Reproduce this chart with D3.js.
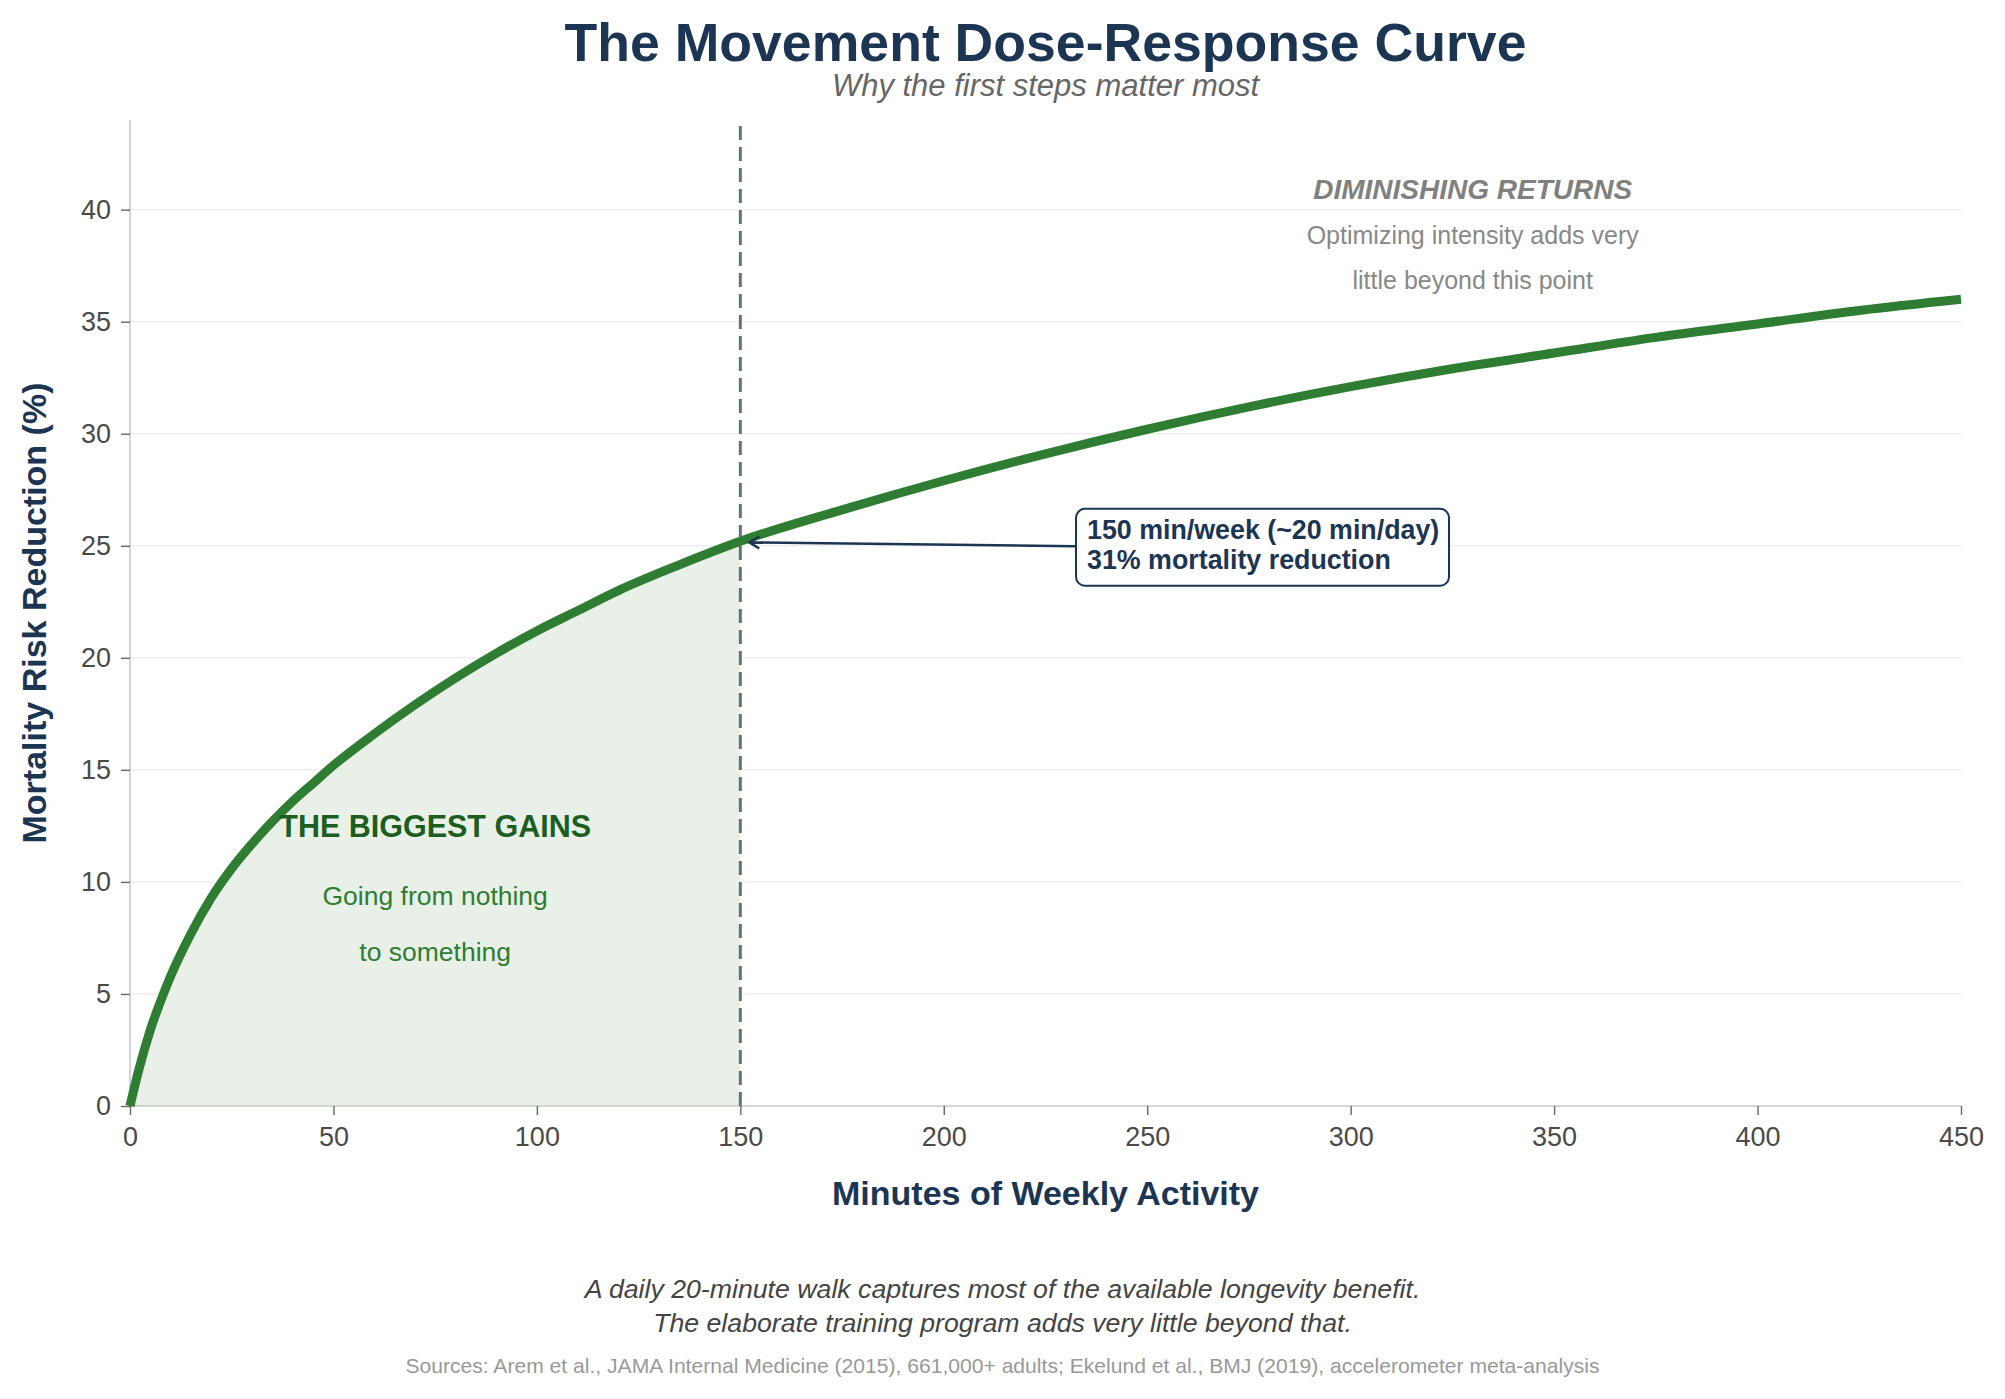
<!DOCTYPE html>
<html>
  <head>
    <meta charset="UTF-8" />
    <title>The Movement Dose-Response Curve</title>
    <script src="https://cdn.jsdelivr.net/npm/d3@7"></script>
    <style>
      body { margin: 0; background: #fff; }
      svg { display: block; font-family: 'Liberation Sans', Arial, sans-serif; }
    </style>
  </head>
  <body>
    <svg></svg>
    <script>
      // data
      const minutes = [0, 2, 5, 8, 10, 15, 20, 25, 30, 35, 40, 45, 50, 60, 70, 80, 90, 100, 110, 120,
        135, 150, 175, 200, 225, 250, 275, 300, 325, 350, 375, 400, 425, 450];
      const riskReduction = [0, 1.5, 3.4, 4.9, 5.8, 7.7, 9.3, 10.6, 11.7, 12.7, 13.6, 14.4, 15.2,
        16.6, 17.9, 19.1, 20.2, 21.2, 22.1, 23.0, 24.15, 25.2, 26.6, 27.9, 29.1, 30.2, 31.2,
        32.1, 32.9, 33.6, 34.3, 34.9, 35.5, 36.0];
      const xTicks = [0, 50, 100, 150, 200, 250, 300, 350, 400, 450];
      const yTicks = [0, 5, 10, 15, 20, 25, 30, 35, 40];
      const threshold = 150;
      const callout = ['150 min/week (~20 min/day)', '31% mortality reduction'];
      const gainsText = ['Going from nothing', 'to something'];
      const diminishingText = ['Optimizing intensity adds very', 'little beyond this point'];
      const footer = [
        'A daily 20-minute walk captures most of the available longevity benefit.',
        'The elaborate training program adds very little beyond that.'
      ];
      const sources = 'Sources: Arem et al., JAMA Internal Medicine (2015), 661,000+ adults; Ekelund et al., BMJ (2019), accelerometer meta-analysis';

      // 1. setup
      const width = 2005;
      const height = 1399;
      const margin = { top: 120, right: 44, bottom: 293, left: 130 };
      const navy = '#1c3553';
      const green = '#2e7d32';

      const svg = d3.select('svg').attr('width', width).attr('height', height);

      const x = d3.scaleLinear().domain([0, 450]).range([margin.left, width - margin.right]);
      const y = d3.scaleLinear().domain([0, 44]).range([height - margin.bottom, margin.top]);

      const data = minutes.map((m, i) => ({ m, v: riskReduction[i] }));

      // 2. grid
      svg.append('g')
        .selectAll('line')
        .data(yTicks.filter((d) => d > 0))
        .join('line')
        .attr('x1', x(0))
        .attr('x2', x(450))
        .attr('y1', (d) => y(d))
        .attr('y2', (d) => y(d))
        .attr('stroke', '#efefef')
        .attr('stroke-width', 1.5);

      // 3. shaded area up to threshold
      const area = d3.area()
        .x((d) => x(d.m))
        .y0(y(0))
        .y1((d) => y(d.v))
        .curve(d3.curveMonotoneX);
      svg.append('path')
        .datum(data.filter((d) => d.m <= threshold))
        .attr('fill', '#e8f0e8')
        .attr('d', area);

      // 4. axes
      const xAxis = svg.append('g')
        .attr('transform', `translate(0,${y(0)})`)
        .call(d3.axisBottom(x).tickValues(xTicks).tickSize(9).tickPadding(12));
      const yAxis = svg.append('g')
        .attr('transform', `translate(${x(0)},0)`)
        .call(d3.axisLeft(y).tickValues(yTicks).tickSize(9).tickPadding(10));
      [xAxis, yAxis].forEach((g) => {
        g.select('.domain').attr('stroke', '#c8c8c8').attr('stroke-width', 1.6);
        g.selectAll('.tick line').attr('stroke', '#666').attr('stroke-width', 1.4);
        g.selectAll('.tick text')
          .attr('fill', '#4a4a4a')
          .style('font-size', '27px')
          .style('font-family', "'Liberation Sans', Arial, sans-serif");
      });
      yAxis.select('.domain').attr('d', `M0,${y(0)}V${y(44)}`);
      xAxis.select('.domain').attr('d', `M${x(0)},0H${x(450)}`);

      // 5. threshold line
      svg.append('line')
        .attr('x1', x(threshold))
        .attr('x2', x(threshold))
        .attr('y1', y(0))
        .attr('y2', y(44))
        .attr('stroke', '#64727f')
        .attr('stroke-width', 3)
        .attr('stroke-dasharray', '14,7');

      // 6. curve
      const line = d3.line()
        .x((d) => x(d.m))
        .y((d) => y(d.v))
        .curve(d3.curveMonotoneX);
      svg.append('path')
        .datum(data)
        .attr('fill', 'none')
        .attr('stroke', green)
        .attr('stroke-width', 9)
        .attr('d', line);

      // 7. callout
      const boxX = x(232.5);
      const boxY = y(26.65);
      const boxW = 373;
      const boxH = 77;
      svg.append('defs')
        .append('marker')
        .attr('id', 'head')
        .attr('viewBox', '-12 -8 14 16')
        .attr('markerWidth', 14)
        .attr('markerHeight', 16)
        .attr('markerUnits', 'userSpaceOnUse')
        .attr('orient', 'auto')
        .append('path')
        .attr('d', 'M-10,-6L0,0L-10,6')
        .attr('fill', 'none')
        .attr('stroke', navy)
        .attr('stroke-width', 2.5);
      svg.append('line')
        .attr('x1', boxX)
        .attr('y1', boxY + boxH / 2 - 1)
        .attr('x2', x(threshold) + 9)
        .attr('y2', y(25.15))
        .attr('stroke', navy)
        .attr('stroke-width', 2.5)
        .attr('marker-end', 'url(#head)');
      svg.append('rect')
        .attr('x', boxX)
        .attr('y', boxY)
        .attr('width', boxW)
        .attr('height', boxH)
        .attr('rx', 9)
        .attr('fill', '#fff')
        .attr('stroke', navy)
        .attr('stroke-width', 2);
      svg.append('g')
        .selectAll('text')
        .data(callout)
        .join('text')
        .attr('x', boxX + 11)
        .attr('y', (d, i) => boxY + 30 + i * 30)
        .attr('fill', navy)
        .attr('font-weight', 'bold')
        .style('font-size', '26.8px')
        .text((d) => d);

      // 8. region notes
      svg.append('text')
        .attr('x', x(75))
        .attr('y', y(12.0))
        .attr('text-anchor', 'middle')
        .attr('fill', '#1b5e20')
        .attr('font-weight', 'bold')
        .style('font-size', '30.5px')
        .text('THE BIGGEST GAINS');
      svg.append('g')
        .selectAll('text')
        .data(gainsText)
        .join('text')
        .attr('x', x(75))
        .attr('y', (d, i) => 905 + i * 56)
        .attr('text-anchor', 'middle')
        .attr('fill', green)
        .style('font-size', '26.5px')
        .text((d) => d);

      svg.append('text')
        .attr('x', x(330))
        .attr('y', 199)
        .attr('text-anchor', 'middle')
        .attr('fill', '#808080')
        .attr('font-weight', 'bold')
        .attr('font-style', 'italic')
        .style('font-size', '28px')
        .text('DIMINISHING RETURNS');
      svg.append('g')
        .selectAll('text')
        .data(diminishingText)
        .join('text')
        .attr('x', x(330))
        .attr('y', (d, i) => 244 + i * 45)
        .attr('text-anchor', 'middle')
        .attr('fill', '#888')
        .style('font-size', '25px')
        .text((d) => d);

      // 9. titles and labels
      const cx = (x(0) + x(450)) / 2;
      svg.append('text')
        .attr('x', cx)
        .attr('y', 61)
        .attr('text-anchor', 'middle')
        .attr('fill', navy)
        .attr('font-weight', 'bold')
        .style('font-size', '53.6px')
        .text('The Movement Dose-Response Curve');
      svg.append('text')
        .attr('x', cx)
        .attr('y', 96)
        .attr('text-anchor', 'middle')
        .attr('fill', '#666')
        .attr('font-style', 'italic')
        .style('font-size', '31px')
        .text('Why the first steps matter most');
      svg.append('text')
        .attr('x', cx)
        .attr('y', 1205)
        .attr('text-anchor', 'middle')
        .attr('fill', navy)
        .attr('font-weight', 'bold')
        .style('font-size', '34px')
        .text('Minutes of Weekly Activity');
      svg.append('text')
        .attr('transform', `translate(46,${(y(0) + y(44)) / 2}) rotate(-90)`)
        .attr('text-anchor', 'middle')
        .attr('fill', navy)
        .attr('font-weight', 'bold')
        .style('font-size', '34px')
        .text('Mortality Risk Reduction (%)');

      // 10. footer
      svg.append('g')
        .selectAll('text')
        .data(footer)
        .join('text')
        .attr('x', width / 2)
        .attr('y', (d, i) => 1298 + i * 34)
        .attr('text-anchor', 'middle')
        .attr('fill', '#444')
        .attr('font-style', 'italic')
        .style('font-size', '26.7px')
        .text((d) => d);
      svg.append('text')
        .attr('x', width / 2)
        .attr('y', 1373)
        .attr('text-anchor', 'middle')
        .attr('fill', '#999')
        .style('font-size', '21.1px')
        .text(sources);
    </script>
  </body>
</html>
